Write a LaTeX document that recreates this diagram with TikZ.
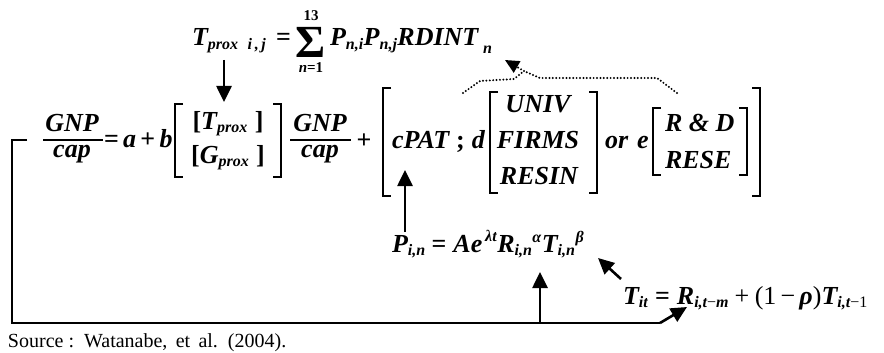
\documentclass[tikz,border=0pt]{standalone}
\usepackage{amsmath}
\usepackage{fontspec}
\setmainfont{Liberation Serif}
\usetikzlibrary{arrows.meta}
\DeclareMathSizes{26}{26}{16}{12}
\newcommand\bi[1]{\text{\bfseries\itshape #1}}
\newcommand\bu[1]{\text{\bfseries #1}}
\newcommand\EQ{\mathrel{\text{\bfseries =}}}
\newcommand\PL{\mathbin{\text{\bfseries +}}}
\newcommand\PLr{\mathbin{\text{+}}}
\newcommand\LBr[3]{\draw[brk] (#1+8,#2) -- (#1,#2) -- (#1,#3) -- (#1+8,#3);}
\newcommand\RBr[3]{\draw[brk] (#1-8,#2) -- (#1,#2) -- (#1,#3) -- (#1-8,#3);}
\begin{document}
\begin{tikzpicture}[x=1pt,y=-1pt,
  ff/.style={font=\fontsize{26}{30}\selectfont, inner sep=0pt, outer sep=0pt},
  lim/.style={font=\fontsize{15}{17}\selectfont\bfseries, inner sep=0pt, outer sep=0pt},
  src/.style={font=\fontsize{20}{24}\selectfont, inner sep=0pt, outer sep=0pt},
  arr/.style={line width=2.6pt, -{Triangle[length=16pt,width=15pt]}},
  ln/.style={line width=2.4pt},
  brk/.style={line width=1.5pt},
  dots/.style={line width=2.2pt, line cap=round, dash pattern=on 0pt off 3.4pt}]
\useasboundingbox (0,0) rectangle (884,353);
\def\A{140}
% top equation
\node[ff,anchor=base west] (tprox) at (192,46) {$\bi{T}_{\bi{prox}\;\;\bi{i\,,\,j}}$};
\node[ff,anchor=base west] (eqtop) at (276,46) {\bfseries =};
\node[inner sep=0pt,outer sep=0pt,font=\fontsize{46}{46}\selectfont\bfseries] (sigma) at (311,42) {Σ};
\node[lim,anchor=south] (lim13) at ([yshift=6pt]sigma.north) {13};
\node[lim,anchor=north] (limn1) at ([yshift=-6pt]sigma.south) {\itshape n\upshape =1};
\node[ff,anchor=base west] (topeq) at (330,46)
  {$\bi{P}_{\bi{n,i}}\bi{P}_{\bi{n,j}}\bi{RDINT}_{\;\lower4pt\hbox{$\scriptstyle\bi{n}$}}$};
% main line
\node[ff,anchor=base] (gnp1) at (72,\A-9) {\bfseries\itshape GNP};
\node[ff,anchor=base] (cap1) at (72,\A+17) {\bfseries\itshape cap};
\draw[brk] (43,\A) -- (103,\A);
\node[ff,anchor=base west] (eqab) at (104,\A+7) {\bfseries =\,\itshape a\,\upshape +\,\itshape b};
\LBr{175}{104}{177}
\RBr{281}{104}{177}
\node[ff,anchor=base] (tpr) at (228,\A-11) {$\bu{[}\bi{T}_{\bi{prox}}\;\bu{]}$};
\node[ff,anchor=base] (gpr) at (228,\A+23) {$\bu{[}\bi{G}_{\bi{prox}}\;\bu{]}$};
\node[ff,anchor=base] (gnp2) at (320,\A-9) {\bfseries\itshape GNP};
\node[ff,anchor=base] (cap2) at (320,\A+17) {\bfseries\itshape cap};
\draw[brk] (290,\A) -- (351,\A);
\node[ff,anchor=base] (plus2) at (364,\A+8) {\bfseries +};
\LBr{383}{88}{196}
\RBr{760}{88}{196}
\node[ff,anchor=base west] (cpat) at (392,\A+8) {$\bi{cPAT}\;\bu{;}\;\bi{d}$};
\LBr{490}{92}{193}
\RBr{597}{92}{193}
\node[ff,anchor=base] (univ) at (538,\A-28) {\bfseries\itshape UNIV};
\node[ff,anchor=base] (firms) at (538,\A+8) {\bfseries\itshape FIRMS};
\node[ff,anchor=base] (resin) at (539,\A+44) {\bfseries\itshape RESIN};
\node[ff,anchor=base west] (ore) at (605,\A+8) {\bfseries\itshape or\hspace{9pt}e};
\LBr{653}{108}{175}
\RBr{747}{108}{175}
\node[ff,anchor=base west] (rd) at (665,\A-9) {\bfseries\itshape R \& D};
\node[ff,anchor=base west] (rese) at (665,\A+28) {\bfseries\itshape RESE};
% P equation
\node[ff,anchor=base west] (pin) at (392,252) {$\bi{P}_{\bi{i,n}}$};
\node[ff,anchor=base west,xshift=6pt] (peq) at (pin.base east)
  {$\EQ\bi{Ae}^{\,\bi{λt}}\bi{R}_{\bi{i,n}}{}^{\bi{α}}\bi{T}_{\bi{i,n}}{}^{\bi{β}}$};
% T equation
\node[ff,anchor=base west] (tit) at (623,304)
  {$\bi{T}_{\bi{it}}\EQ\bi{R}_{\bi{i,t}\text{−}\bi{m}}\PLr\text{(1}\,\text{−}\,\bi{ρ}\text{)}\bi{T}_{\bi{i,t}\text{−1}}$};
% source
\node[src,anchor=base west] (source) at (8,347) {Source :\, Watanabe,\, et\, al.\, (2004).};
% connectors
\coordinate (tpfoot) at (224,60);
\coordinate (btop) at (224,102);
\draw[arr] (tpfoot) -- (btop);
\coordinate (pfoot) at (405,232);
\coordinate (cpfoot) at (405,170);
\draw[arr] (pfoot) -- (cpfoot);
\coordinate (titcorner) at (621,279);
\coordinate (tinfoot) at (598,258);
\draw[arr] (titcorner) -- (tinfoot);
\coordinate (bend) at (660,323);
\coordinate (ritfoot) at (687,307);
\draw[ln] (27,\A) -- (12,\A) -- (12,323) -- (bend);
\draw[arr] (bend) -- (ritfoot);
\coordinate (lineup) at (540,323);
\coordinate (rinfoot) at (540,272);
\draw[arr] (lineup) -- (rinfoot);
% dotted arrow
\coordinate (J) at (524,71);
\coordinate (rdn) at (505,60);
\draw[dots] (463,93) -- (480,81) -- (514,79) -- (J);
\draw[dots] (677,93) -- (657,78) -- (540,78) -- (J);
\draw[dots,-{Triangle[length=14pt,width=13pt]}] (J) -- (rdn);
\end{tikzpicture}
\end{document}
